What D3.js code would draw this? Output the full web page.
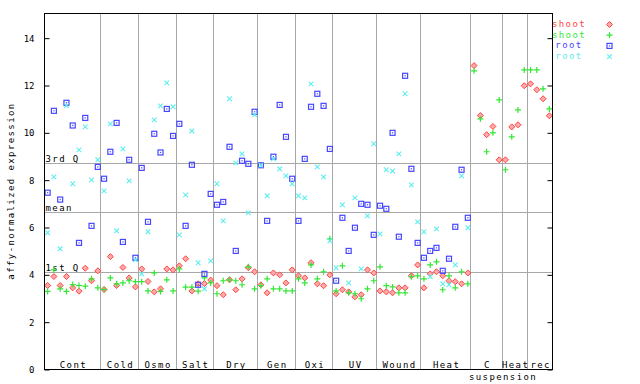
<!DOCTYPE html>
<head>
	<meta charset="utf-8">
	<script src="https://d3js.org/d3.v7.min.js" charset="utf-8"></script>
	<style>
		body {margin: 0; background: #fff;}
		text {font-family: "DejaVu Sans Mono", monospace; font-size: 9px;}
		.lbl {letter-spacing: 1.4px;}
	</style>
</head>
<body>
	<script>
		// condition groups along x, number of samples in each
		var groups = ["Cont", "Cold", "Osmo", "Salt", "Dry", "Gen", "Oxi", "UV", "Wound", "Heat", "C", "Heat", "rec"];
		var groupSizes = [9, 6, 6, 6, 7, 6, 6, 7, 7, 8, 5, 4, 4];

		// shoot replicate 1 (red diamonds)
		var shoot1 = [3.55, 3.93, 3.55, 3.93, 3.45, 3.31, 4.28, 3.75, 4.17,
			3.38, 4.77, 3.55, 4.31, 3.87, 3.49,
			4.25, 3.72, 3.28, 3.41, 4.25, 4.21,
			4.38, 4.68, 3.32, 3.62, 3.63, 3.78,
			3.54, 3.16, 3.79, 3.37, 3.83, 4.30, 4.13,
			3.58, 3.24, 4.08, 4.00, 3.66, 4.21,
			3.96, 3.87, 4.51, 3.62, 3.54, 4.00,
			3.20, 3.37, 3.28, 3.07, 3.16, 4.21, 4.08,
			3.32, 3.28, 3.24, 3.45, 3.45, 3.96, 4.42,
			3.45, 4.04, 4.13, 3.96, 3.75, 3.71, 3.62, 4.08,
			12.84, 10.73, 9.92, 10.27, 8.86,
			8.86, 10.25, 10.34, 11.99,
			12.07, 11.82, 11.44, 10.72];

		// shoot replicate 2 (green crosses)
		var shoot2 = [3.30, 4.21, 3.41, 3.30, 3.59, 3.55, 3.52, 3.83, 3.45,
			3.38, 3.87, 3.62, 3.66, 3.75, 3.71,
			3.71, 3.32, 4.08, 3.30, 3.79, 3.32,
			4.25, 3.48, 3.48, 3.31, 3.87, 3.66,
			3.20, 3.75, 3.79, 3.75, 3.58, 4.34, 3.41,
			3.54, 3.83, 3.41, 3.41, 3.32, 3.32,
			3.83, 3.66, 4.42, 3.83, 4.13, 5.52,
			3.32, 4.38, 3.24, 3.20, 2.99, 3.41, 3.75,
			4.34, 3.54, 3.49, 3.24, 3.24, 3.92, 3.96,
			3.83, 4.42, 4.55, 3.37, 3.96, 3.45, 4.13, 3.62,
			12.62, 10.59, 9.20, 10.00, 11.39,
			8.44, 9.83, 10.97, 12.66,
			12.66, 12.66, 11.86, 11.01];

		// root replicate 1 (blue squares)
		var root1 = [7.47, 10.93, 7.18, 11.27, 10.31, 5.35, 10.63, 6.07, 8.56,
			8.06, 9.20, 10.42, 5.39, 8.86, 4.72,
			8.52, 6.24, 9.96, 9.17, 11.01, 9.87,
			10.38, 6.07, 8.65, 3.58, 4.04, 7.42,
			6.96, 7.08, 9.41, 5.01, 8.82, 8.69, 10.89,
			8.63, 6.28, 8.99, 11.18, 9.83, 8.06,
			6.28, 8.90, 11.10, 11.65, 11.14, 9.32,
			3.75, 6.41, 5.01, 5.99, 7.00, 6.96, 5.69,
			6.92, 6.79, 10.00, 5.61, 12.41, 8.48, 5.35,
			4.72, 5.01, 5.14, 4.17, 4.68, 6.03, 8.44, 6.41];

		// root replicate 2 (cyan x)
		var root2 = [5.78, 8.14, 5.10, 11.15, 7.85, 9.28, 10.25, 8.01, 8.86,
			7.55, 10.38, 5.86, 9.32, 7.97, 4.63,
			4.04, 5.82, 10.55, 11.14, 12.11, 11.10,
			5.69, 7.38, 10.08, 4.51, 3.41, 4.59,
			7.85, 6.28, 11.44, 8.73, 9.11, 6.62, 10.76,
			8.63, 7.34, 8.90, 8.48, 8.18, 7.85,
			7.34, 7.25, 12.07, 8.56, 8.14, 5.44,
			4.30, 6.96, 3.66, 7.25, 4.25, 6.49, 9.54,
			5.73, 8.44, 8.39, 9.11, 11.65, 7.80, 6.24,
			5.82, 3.92, 5.94, 3.62, 3.58, 4.42, 8.18, 5.99];

		var quartiles = [{label: "3rd Q", value: 8.70}, {label: "mean", value: 6.62}, {label: "1st Q", value: 4.08}];
		var yTicks = [0, 2, 4, 6, 8, 10, 12, 14];

		var series = [
			{name: "shoot", values: shoot1, color: "#ff4444", shape: "diamond"},
			{name: "shoot", values: shoot2, color: "#33e633", shape: "plus"},
			{name: "root", values: root1, color: "#4646ff", shape: "square"},
			{name: "root", values: root2, color: "#5ceeee", shape: "cross"}
		];

		var margin = {top: 13, right: 88, bottom: 15, left: 44},
			width = 640 - margin.left - margin.right,
			height = 384 - margin.top - margin.bottom;

		var svg = d3.select("body").append("svg")
			.attr("width", 640)
			.attr("height", 384);

		var g = svg.append("g")
			.attr("transform", "translate(" + (margin.left + 0.5) + "," + (margin.top + 0.5) + ")");

		var nSamples = d3.sum(groupSizes);
		var x = d3.scaleLinear().domain([0, nSamples]).range([0, width]);
		var y = d3.scaleLinear().domain([0, 15]).range([height, 1]);

		// group separators and labels
		var bounds = [0];
		groupSizes.forEach(function(n, i){ bounds.push(bounds[i] + n); });

		g.selectAll(".sep")
			.data(bounds.slice(1, -1))
			.enter().append("line")
			.attr("x1", function(d){ return Math.round(x(d)); })
			.attr("x2", function(d){ return Math.round(x(d)); })
			.attr("y1", 0).attr("y2", height)
			.attr("stroke", "#a8a8a8")
			.attr("shape-rendering", "crispEdges");

		g.selectAll(".qline")
			.data(quartiles)
			.enter().append("line")
			.attr("x1", 0).attr("x2", width)
			.attr("y1", function(d){ return Math.round(y(d.value)); })
			.attr("y2", function(d){ return Math.round(y(d.value)); })
			.attr("stroke", "#a8a8a8")
			.attr("shape-rendering", "crispEdges");

		g.selectAll(".qlabel")
			.data(quartiles)
			.enter().append("text")
			.attr("class", "lbl")
			.attr("x", 1)
			.attr("y", function(d){ return Math.round(y(d.value)) - 1.5; })
			.text(function(d){ return d.label; });

		g.selectAll(".glabel")
			.data(groups)
			.enter().append("text")
			.attr("class", "lbl")
			.attr("text-anchor", "middle")
			.attr("x", function(d, i){ return x((bounds[i] + bounds[i + 1]) / 2) + 0.7; })
			.attr("y", height - 1.5)
			.text(function(d){ return d; });

		g.append("text")
			.attr("class", "lbl")
			.attr("text-anchor", "middle")
			.attr("x", x(bounds[11]) + 0.7)
			.attr("y", height + 10)
			.text("suspension");

		// markers
		function drawMarker(sel, shape, color) {
			if (shape == "diamond") {
				sel.append("path").attr("d", "M0,-3L3,0L0,3L-3,0Z")
					.attr("fill", "#ffaaaa").attr("stroke", color);
			} else if (shape == "plus") {
				sel.append("path").attr("d", "M-3,0H3M0,-3V3")
					.attr("stroke", color).attr("stroke-width", 1.2);
			} else if (shape == "square") {
				sel.append("rect").attr("x", -2.5).attr("y", -2.5).attr("width", 5).attr("height", 5)
					.attr("fill", "none").attr("stroke", color).attr("stroke-width", 1.2);
				sel.append("rect").attr("x", -0.6).attr("y", -0.6).attr("width", 1.2).attr("height", 1.2)
					.attr("fill", color);
			} else {
				sel.append("path").attr("d", "M-2.3,-2.3L2.3,2.3M-2.3,2.3L2.3,-2.3")
					.attr("stroke", color).attr("stroke-width", 1.1);
			}
		}

		series.forEach(function(s){
			g.append("g").selectAll("g")
				.data(s.values)
				.enter().append("g")
				.attr("transform", function(d, i){ return "translate(" + x(i + 0.5) + "," + y(d) + ")"; })
				.each(function(){ drawMarker(d3.select(this), s.shape, s.color); });
		});

		// axes
		var yAxis = g.append("g")
			.call(d3.axisLeft(y).tickValues(yTicks).tickSizeInner(-5).tickSizeOuter(0).tickPadding(10));
		yAxis.select(".domain").remove();
		yAxis.selectAll("text").attr("font-family", "DejaVu Sans Mono").attr("font-size", "9px").attr("fill", "#000");

		var yAxisR = g.append("g")
			.attr("transform", "translate(" + width + ",0)")
			.call(d3.axisRight(y).tickValues(yTicks).tickSizeInner(-5).tickSizeOuter(0).tickFormat(""));
		yAxisR.select(".domain").remove();

		g.append("rect")
			.attr("x", 0).attr("y", 0)
			.attr("width", width).attr("height", height)
			.attr("fill", "none").attr("stroke", "#000")
			.attr("shape-rendering", "crispEdges");

		svg.append("text")
			.attr("class", "lbl")
			.attr("text-anchor", "middle")
			.attr("transform", "translate(14," + (margin.top + height / 2) + ") rotate(-90)")
			.text("affy-normalized expression");

		// legend
		var legend = svg.selectAll(".legend")
			.data(series)
			.enter().append("g")
			.attr("transform", function(d, i){ return "translate(0," + (24 + i * 10.7) + ")"; });

		legend.append("text")
			.attr("class", "lbl")
			.attr("text-anchor", "middle")
			.attr("x", 569)
			.attr("y", 3)
			.attr("fill", function(d){ return d.color; })
			.text(function(d){ return d.name; });

		legend.append("g")
			.attr("transform", "translate(609.5,0.5)")
			.each(function(d){ drawMarker(d3.select(this), d.shape, d.color); });
	</script>
</body>
</html>
